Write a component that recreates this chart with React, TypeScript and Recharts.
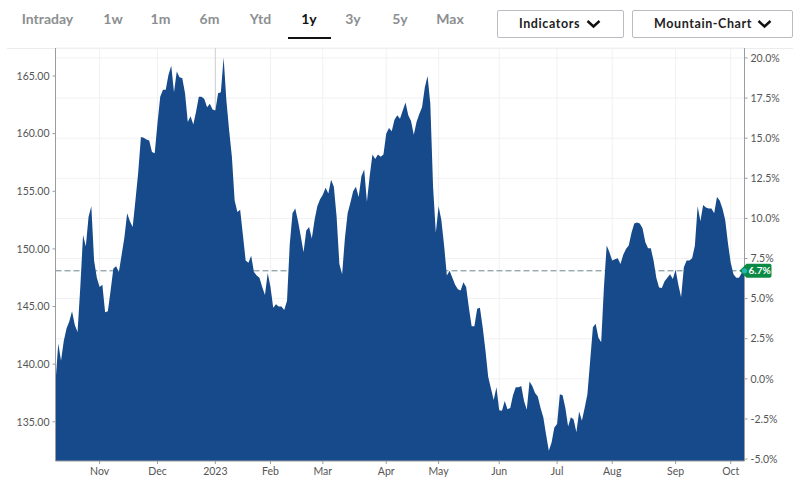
import { AreaChart, Area, XAxis, YAxis, CartesianGrid, ReferenceLine, ReferenceDot } from "recharts";

const prices = [
  138.4, 141.8, 140.3, 142.0, 143.1, 143.7, 144.6, 143.4, 142.8, 146.7,
  151.2, 150.2, 152.8, 153.7, 149, 147.5, 146.7, 146.9, 144.5, 144.6,
  146.4, 148.3, 148.5, 148, 149.5, 151, 153.1, 152.4, 151.9, 154.2,
  156.6, 159.7, 159.65, 159.5, 159.4, 158.4, 158.3, 160.9, 163.2, 163.8,
  163.8, 165.1, 165.9, 163.6, 165.4, 164.9, 164.8, 163.5, 161, 161.5,
  160.8, 161.9, 163.2, 163.2, 163, 162.3, 162.6, 162.1, 162, 163.5,
  163.6, 166.6, 162.9, 160.3, 158, 154.2, 153.2, 153.4, 151.2, 149,
  148.8, 149.4, 148, 147.7, 147.5, 146.7, 146, 147.9, 146.7, 144.9,
  145.2, 145, 145, 144.7, 145.5, 150.4, 153.1, 153.5, 152.4, 151.1,
  149.7, 151.6, 151.9, 150.9, 152.5, 153.7, 154.3, 154.7, 155.3, 154.8,
  156, 155.4, 152.8, 148.7, 147.8, 150.9, 153.1, 154, 155, 155.4,
  154.5, 156.3, 156.9, 154.1, 156.3, 158.2, 157.8, 158.2, 158, 158.2,
  160, 160.5, 160.2, 161.2, 161.6, 161.3, 162, 162.7, 161.6, 161.1,
  159.9, 161, 161.7, 162.3, 164, 165, 162.6, 155.4, 151.4, 153.7,
  152.5, 150.3, 147.7, 148.1, 147.5, 146.9, 146.5, 146.4, 147.1, 146.7,
  144.9, 143.3, 143.3, 144.8, 144.9, 143.2, 141.2, 138.9, 137.9, 136.9,
  138, 136, 135.95, 136.8, 136.1, 136.2, 137.3, 138, 138, 138.1,
  136.8, 136.05, 138.5, 138.1, 137.5, 137.2, 136.2, 135.4, 133.9, 132.5,
  133.2, 134.5, 134.8, 137.4, 137.3, 136.2, 134.6, 135.4, 135.2, 134.1,
  135.9, 135.1, 136.2, 137.4, 140.3, 143.2, 143.5, 142.3, 141.9, 146.7,
  150.3, 149.7, 149, 149.1, 149.2, 148.7, 149.5, 150, 150.3, 151.4,
  152.2, 152.3, 152.2, 151.8, 150.6, 150.05, 150.05, 149, 147.5, 146.65,
  146.6, 147.2, 147.5, 147.8, 147.4, 148.2, 146.9, 145.8, 148.4, 149,
  149, 149.2, 150.3, 153.7, 152.4, 153.8, 153.6, 153.5, 153.5, 153.1,
  154.5, 154.2, 153.5, 152.5, 150.5, 148.8, 147.8, 147.5, 147.5, 147.9,
  148.1,
];
const priceTicks = [135, 140, 145, 150, 155, 160, 165];
const pctTicks = [-5, -2.5, 0, 2.5, 5, 7.5, 10, 12.5, 15, 17.5, 20];
const monthTicks = [16, 37, 58, 78, 97, 120, 139, 161, 182, 202, 225, 245];
const monthLabels = ["Nov", "Dec", "2023", "Feb", "Mar", "Apr", "May", "Jun", "Jul", "Aug", "Sep", "Oct"];
const ranges = ["Intraday", "1w", "1m", "6m", "Ytd", "1y", "3y", "5y", "Max"];
const rangeCenters = [47.5, 113, 160.5, 209.5, 260.5, 309, 353, 400, 450];

const lastPrice = 148.1;
const lastPct = "6.7%";
const data = prices.map((price, i) => ({ session: i, price }));

const font = "Lato, sans-serif";
const tickStyle = { fill: "#555", fontSize: 10.5, fontFamily: font };

const Chevron = ({ left }: { left: number }) => (
  <svg width={16} height={10} style={{ position: "absolute", left, top: 8 }}>
    <path d="M1.5 2 L7.5 7.5 L13.5 2" fill="none" stroke="#111" strokeWidth={2.4} />
  </svg>
);

const Button = ({ left, width, label, textLeft, chevron }: { left: number; width: number; label: string; textLeft: number; chevron: number }) => (
  <div
    style={{
      position: "absolute", left, top: 10, width, height: 28, boxSizing: "border-box",
      border: "1px solid #b9bdc1", borderRadius: 2, fontFamily: font, fontWeight: 700,
      fontSize: 12.5, letterSpacing: 0.6, color: "#222", lineHeight: "26px",
    }}
  >
    <span style={{ position: "absolute", left: textLeft, whiteSpace: "nowrap" }}>{label}</span>
    <Chevron left={chevron} />
  </div>
);

const LastBadge = ({ cx, cy }: { cx?: number; cy?: number }) => {
  const x = cx ?? 0;
  const y = cy ?? 0;
  return (
    <g>
      <path
        d={`M${x - 5} ${y} L${x + 2} ${y - 7} H${x + 25} Q${x + 27} ${y - 7} ${x + 27} ${y - 5} V${y + 5} Q${x + 27} ${y + 7} ${x + 25} ${y + 7} H${x + 2} Z`}
        fill="#0b8a45"
      />
      <circle cx={x} cy={y} r={2.6} fill="#25b5b5" />
      <text x={x + 4} y={y + 3.6} fill="#fff" fontSize={10} fontWeight={700} fontFamily={font}>{lastPct}</text>
    </g>
  );
};

export default function App() {
  return (
    <div style={{ position: "absolute", left: 0, top: 0, width: 800, height: 488, background: "#fff", overflow: "hidden" }}>
      {ranges.map((r, i) => (
        <div
          key={r}
          style={{
            position: "absolute", left: rangeCenters[i] - 40, width: 80, top: 10, textAlign: "center",
            fontFamily: font, fontWeight: 700, fontSize: 14, lineHeight: "18px",
            color: r === "1y" ? "#111" : "#8c8f92",
          }}
        >
          {r}
        </div>
      ))}
      <div style={{ position: "absolute", left: 288, top: 37, width: 43, height: 2, background: "#111" }} />
      <Button left={497} width={127} label="Indicators" textLeft={21} chevron={88} />
      <Button left={632} width={161} label="Mountain-Chart" textLeft={21} chevron={124} />
      <div style={{ position: "absolute", left: 7, top: 48, width: 786, height: 1, background: "#ececec" }} />
      <AreaChart
        width={800}
        height={488}
        data={data}
        margin={{ top: 48, right: 0, bottom: 0, left: 0 }}
        style={{ position: "absolute", left: 0, top: 0 }}
      >
        <CartesianGrid yAxisId="pct" xAxisId={0} stroke="#f1f1f1" strokeWidth={1} />
        <XAxis
          dataKey="session"
          type="number"
          domain={[0, 250]}
          ticks={monthTicks}
          tickFormatter={(v: number) => monthLabels[monthTicks.indexOf(v)]}
          interval={0}
          height={27}
          tick={tickStyle}
          tickSize={3}
          tickMargin={4}
          stroke="#9a9da0"
        />
        <YAxis
          yAxisId="price"
          orientation="left"
          width={55.5}
          domain={[131.6, 167.43]}
          allowDataOverflow
          ticks={priceTicks}
          interval={0}
          tickFormatter={(v: number) => v.toFixed(2)}
          tick={tickStyle}
          tickSize={3}
          tickMargin={3}
          stroke="#9a9da0"
        />
        <YAxis
          yAxisId="pct"
          orientation="right"
          width={55.5}
          domain={[-5.12, 20.62]}
          allowDataOverflow
          ticks={pctTicks}
          interval={0}
          tickFormatter={(v: number) => `${v.toFixed(1)}%`}
          tick={tickStyle}
          tickSize={3}
          tickMargin={3}
          stroke="#9a9da0"
        />
        <ReferenceLine yAxisId="price" x={58} stroke="#cfd1d3" zIndex={50} />
        <ReferenceLine yAxisId="price" y={lastPrice} stroke="#6d878e" strokeDasharray="6 3" zIndex={50} />
        <Area
          yAxisId="price"
          type="linear"
          dataKey="price"
          stroke="none"
          fill="#164a8a"
          fillOpacity={1}
          baseValue={131.6}
          dot={false}
          activeDot={false}
          isAnimationActive={false}
        />
        <ReferenceDot yAxisId="price" x={250} y={lastPrice} ifOverflow="visible" shape={(p: any) => <LastBadge cx={p.cx} cy={p.cy} />} />
      </AreaChart>
    </div>
  );
}
